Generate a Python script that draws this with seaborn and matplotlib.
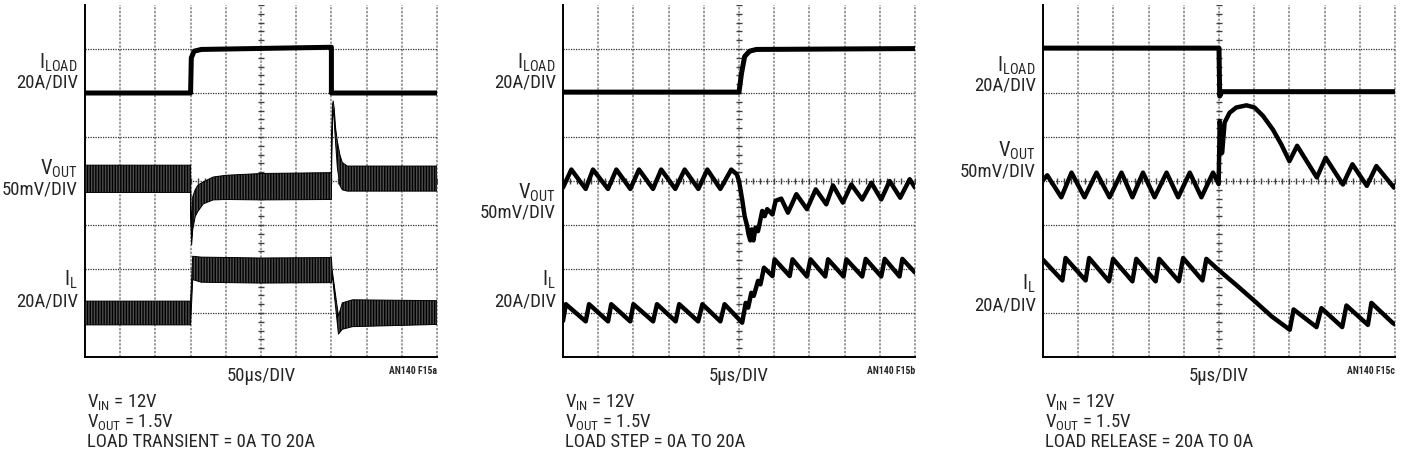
import numpy as np
import matplotlib
matplotlib.use("Agg")
import matplotlib.pyplot as plt
from matplotlib import font_manager
import seaborn as sns

# ---- data, read off the scope shots (x and y in graticule divisions) ----
# panel a: load transient 0A -> 20A -> 0A, 50us/div
a_iload_x = [0, 3.0, 3.02, 3.1, 3.3, 7.0, 7.0, 10]
a_iload_y = [6.0, 6.0, 6.8, 6.95, 6.99, 7.04, 6.0, 6.0]
a_vout_x = [0, 3.0, 3.01, 3.03, 3.06, 3.13, 3.2, 3.36, 3.64, 4.0, 5.0, 7.0,
            7.01, 7.03, 7.05, 7.08, 7.12, 7.17, 7.24, 7.31, 7.45, 10]
a_vout_hi = [4.36, 4.36, 3.3, 2.75, 3.64, 3.80, 3.90, 3.98, 4.09, 4.13, 4.17, 4.19,
             5.0, 5.72, 5.82, 5.65, 5.2, 4.9, 4.6, 4.42, 4.34, 4.34]
a_vout_lo = [3.74, 3.74, 3.0, 2.55, 2.89, 3.19, 3.30, 3.48, 3.57, 3.58, 3.57, 3.58,
             4.5, 5.45, 5.62, 5.35, 4.85, 4.3, 3.9, 3.8, 3.77, 3.77]
a_il_x = [0, 3.0, 3.06, 3.3, 5.0, 7.0, 7.02, 7.2, 7.31, 7.6, 10]
a_il_hi = [1.27, 1.27, 2.29, 2.27, 2.25, 2.26, 1.99, 0.93, 1.23, 1.30, 1.28]
a_il_lo = [0.73, 0.73, 1.76, 1.70, 1.68, 1.69, 1.90, 0.52, 0.63, 0.69, 0.74]

# panel b: load step 0A -> 20A, 5us/div
b_iload_x = [0, 5.0, 5.07, 5.16, 5.30, 5.49, 10]
b_iload_y = [6.02, 6.02, 6.44, 6.83, 6.95, 6.99, 7.01]
b_vout_x = [0, 0.237, 0.644, 0.852, 1.278, 1.515, 1.913, 2.159, 2.557, 2.79, 3.19,
            3.456, 3.845, 4.1, 4.47, 4.78, 4.94, 5.0, 5.09, 5.16, 5.23, 5.27, 5.32,
            5.36, 5.41, 5.47, 5.54, 5.66, 5.73, 5.80, 5.95, 6.04, 6.20, 6.39, 6.63,
            6.93, 7.18, 7.48, 7.67, 7.95, 8.19, 8.5, 8.76, 9.04, 9.28, 9.58, 9.85, 10]
b_vout_y = [3.85, 4.26, 3.82, 4.26, 3.82, 4.26, 3.82, 4.26, 3.82, 4.26, 3.82,
            4.26, 3.82, 4.26, 3.82, 4.26, 4.15, 4.0, 3.58, 3.2, 2.98, 2.79, 2.65,
            2.90, 2.65, 2.94, 2.86, 3.32, 3.20, 3.36, 3.24, 3.55, 3.60, 3.28, 3.70,
            3.36, 3.81, 3.47, 3.90, 3.51, 3.92, 3.58, 3.96, 3.58, 4.0, 3.62, 4.04, 3.85]
b_il_x = [0, 0.08, 0.645, 0.74, 1.28, 1.37, 1.91, 2.0, 2.56, 2.67, 3.20, 3.30,
          3.84, 3.96, 4.47, 4.59, 5.09, 5.19, 5.26, 5.35, 5.42, 5.54, 5.61, 5.71,
          5.95, 6.01, 6.44, 6.52, 6.93, 7.03, 7.45, 7.53, 7.97, 8.05, 8.5, 8.6,
          9.04, 9.14, 9.56, 9.64, 10]
b_il_y = [0.82, 1.2, 0.81, 1.2, 0.81, 1.2, 0.81, 1.2, 0.81, 1.2, 0.81, 1.2,
          0.81, 1.2, 0.81, 1.2, 0.78, 1.23, 1.12, 1.46, 1.39, 1.73, 1.65, 2.03,
          1.84, 2.22, 1.84, 2.22, 1.83, 2.22, 1.83, 2.22, 1.83, 2.22, 1.83, 2.23,
          1.83, 2.23, 1.83, 2.23, 1.92]

# panel c: load release 20A -> 0A, 5us/div
c_iload_x = [0, 5.0, 5.02, 5.08, 10]
c_iload_y = [7.02, 7.02, 5.93, 6.03, 6.03]
c_vout_x = [0, 0.12, 0.52, 0.81, 1.18, 1.52, 1.89, 2.23, 2.54, 2.84, 3.17, 3.51,
            3.84, 4.17, 4.5, 4.83, 4.99, 5.02, 5.09, 5.16, 5.30, 5.49, 5.78, 6.01,
            6.25, 6.53, 6.77, 7.0, 7.22, 7.78, 8.03, 8.52, 8.79, 9.2, 9.47, 9.97, 10]
c_vout_y = [4.02, 4.13, 3.63, 4.19, 3.63, 4.19, 3.63, 4.19, 3.63, 4.19, 3.63, 4.19,
            3.63, 4.19, 3.63, 4.19, 3.93, 5.36, 4.64, 5.33, 5.55, 5.67, 5.72, 5.67,
            5.48, 5.17, 4.83, 4.45, 4.80, 4.08, 4.53, 3.92, 4.38, 3.89, 4.34, 3.85, 3.9]
c_il_x = [0, 0.55, 0.64, 1.21, 1.31, 1.875, 1.99, 2.54, 2.65, 3.2, 3.30, 3.86,
          3.98, 4.53, 4.64, 5.0, 5.5, 6.0, 6.5, 7.01, 7.12, 7.77, 7.91, 8.5, 8.62,
          9.23, 9.33, 9.94, 10]
c_il_y = [2.21, 1.74, 2.25, 1.74, 2.25, 1.72, 2.23, 1.72, 2.23, 1.72, 2.23, 1.72,
          2.25, 1.74, 2.23, 1.97, 1.63, 1.28, 0.92, 0.62, 1.08, 0.68, 1.11, 0.68, 1.17,
          0.73, 1.23, 0.77, 0.74]

time_labels = ["50\u00b5s/DIV", "5\u00b5s/DIV", "5\u00b5s/DIV"]
fig_ids = ["AN140 F15a", "AN140 F15b", "AN140 F15c"]
load_notes = ["LOAD TRANSIENT = 0A TO 20A", "LOAD STEP = 0A TO 20A",
              "LOAD RELEASE = 20A TO 0A"]

# ---- style ----
sns.set_style("white")


def pick_font():
    # the scope labels use a condensed sans; take one if the box has it
    entries = font_manager.fontManager.ttflist
    names = {f.name for f in entries}
    for want in ["Liberation Sans Narrow", "Roboto Condensed", "Open Sans Condensed",
                 "Noto Sans Condensed", "DejaVu Sans Condensed", "Arial Narrow"]:
        if want in names:
            return want, "normal"
    for fam in ["Roboto", "Noto Sans", "Open Sans", "DejaVu Sans", "Liberation Sans"]:
        for f in entries:
            if f.name == fam and f.stretch in ("condensed", "semi-condensed"):
                return fam, f.stretch
    return "Liberation Sans", "normal"


FONT, STRETCH = pick_font()
plt.rcParams["font.family"] = [FONT, "DejaVu Sans"]
plt.rcParams["font.stretch"] = STRETCH
plt.rcParams["mathtext.fontset"] = "custom"
try:
    plt.rcParams["mathtext.rm"] = f"{FONT}:{STRETCH}" if STRETCH != "normal" else FONT
except ValueError:
    plt.rcParams["mathtext.rm"] = FONT
plt.rcParams["mathtext.it"] = plt.rcParams["mathtext.rm"]
plt.rcParams["hatch.linewidth"] = 1.0

W, H = 1406, 459
fig = plt.figure(figsize=(W / 100, H / 100), dpi=100)

# size the text so the long condition line spans what it does on the scope print
probe = fig.text(0, 0, load_notes[0], fontsize=13)
probe_w = probe.get_window_extent(fig.canvas.get_renderer()).width
probe.remove()
FS = min(13.5, 13 * 232 / probe_w)
FSM = FS * 1.1


def fpos(x, y):
    # pixel position -> figure fraction
    return x / W, 1 - y / H


def scope_axes(left):
    ax = fig.add_axes([left / W, (H - 357) / H, 352 / W, 352 / H])
    ax.set_xlim(0, 10)
    ax.set_ylim(0, 8)
    ax.set_xticks([])
    ax.set_yticks([])
    ax.spines["top"].set_visible(False)
    ax.spines["right"].set_visible(False)
    for s in ["left", "bottom"]:
        ax.spines[s].set_linewidth(1.4)
        ax.spines[s].set_color("black")
    for gx in range(1, 11):
        ax.axvline(gx, color="#808080", lw=1.1, ls=(0, (1.5, 1)), zorder=1, clip_on=False)
    for gy in range(1, 8):
        ax.axhline(gy, color="#303030", lw=0.9, ls=(0, (1, 1)), zorder=1)
    # center graticule ticks
    ty = np.arange(0, 8.01, 0.2)
    ax.plot(np.full_like(ty, 5), ty, ls="none", marker="_", ms=5, mew=1, color="#404040", zorder=1)
    tx = np.arange(0, 10.01, 0.2)
    ax.plot(tx, np.full_like(tx, 4), ls="none", marker="|", ms=5, mew=1, color="#404040", zorder=1)
    return ax


def trace(ax, x, y, lw=3.2):
    sns.lineplot(x=x, y=y, ax=ax, color="black", lw=lw, estimator=None, sort=False,
                 legend=False, zorder=3)


def band(ax, x, lo, hi):
    # dense switching ripple: dark grey body with black vertical striping
    ax.fill_between(x, lo, hi, facecolor="#4d4d4d", edgecolor="#000000", hatch="||||||",
                    lw=0.7, zorder=3)


lefts = [85, 563, 1043]
ax_a = scope_axes(lefts[0])
trace(ax_a, a_iload_x, a_iload_y, lw=3.6)
band(ax_a, a_vout_x, a_vout_lo, a_vout_hi)
band(ax_a, a_il_x, a_il_lo, a_il_hi)

ax_b = scope_axes(lefts[1])
trace(ax_b, b_iload_x, b_iload_y, lw=3.6)
trace(ax_b, b_vout_x, b_vout_y)
trace(ax_b, b_il_x, b_il_y)

ax_c = scope_axes(lefts[2])
trace(ax_c, c_iload_x, c_iload_y, lw=3.6)
trace(ax_c, c_vout_x, c_vout_y)
trace(ax_c, c_il_x, c_il_y)

# ---- channel labels (right aligned, baselines in px) ----
label_rows = [
    (78, [68.5, 87.3, 175, 195, 286, 306.7]),
    (556, [68.3, 87.3, 198.3, 217.3, 286, 306.7]),
    (1036, [71.7, 90.7, 156.7, 176.7, 290, 310.7]),
]
for rx, ys in label_rows:
    fig.text(*fpos(rx, ys[0]), r"$\mathrm{I_{LOAD}}$", ha="right", va="baseline", fontsize=FSM)
    fig.text(*fpos(rx, ys[1]), "20A/DIV", ha="right", va="baseline", fontsize=FS)
    fig.text(*fpos(rx, ys[2]), r"$\mathrm{V_{OUT}}$", ha="right", va="baseline", fontsize=FSM)
    fig.text(*fpos(rx, ys[3]), "50mV/DIV", ha="right", va="baseline", fontsize=FS)
    fig.text(*fpos(rx, ys[4]), r"$\mathrm{I_{L}}$", ha="right", va="baseline", fontsize=FSM)
    fig.text(*fpos(rx, ys[5]), "20A/DIV", ha="right", va="baseline", fontsize=FS)

# ---- time base, figure id and test conditions ----
for i, left in enumerate(lefts):
    fig.text(*fpos(left + 176, 380.7), time_labels[i], ha="center", va="baseline", fontsize=FS)
    fig.text(*fpos(left + 352, 374), fig_ids[i], ha="right", va="baseline",
             fontsize=FS * 0.52, fontweight="bold")
    tx = left + 2
    fig.text(*fpos(tx, 406.7), r"$\mathrm{V_{IN}}$ = 12V", ha="left", va="baseline", fontsize=FS)
    fig.text(*fpos(tx, 426.7), r"$\mathrm{V_{OUT}}$ = 1.5V", ha="left", va="baseline", fontsize=FS)
    fig.text(*fpos(tx, 447.3), load_notes[i], ha="left", va="baseline", fontsize=FS)

fig.savefig("out.png", dpi=100, facecolor="white")
plt.close(fig)
